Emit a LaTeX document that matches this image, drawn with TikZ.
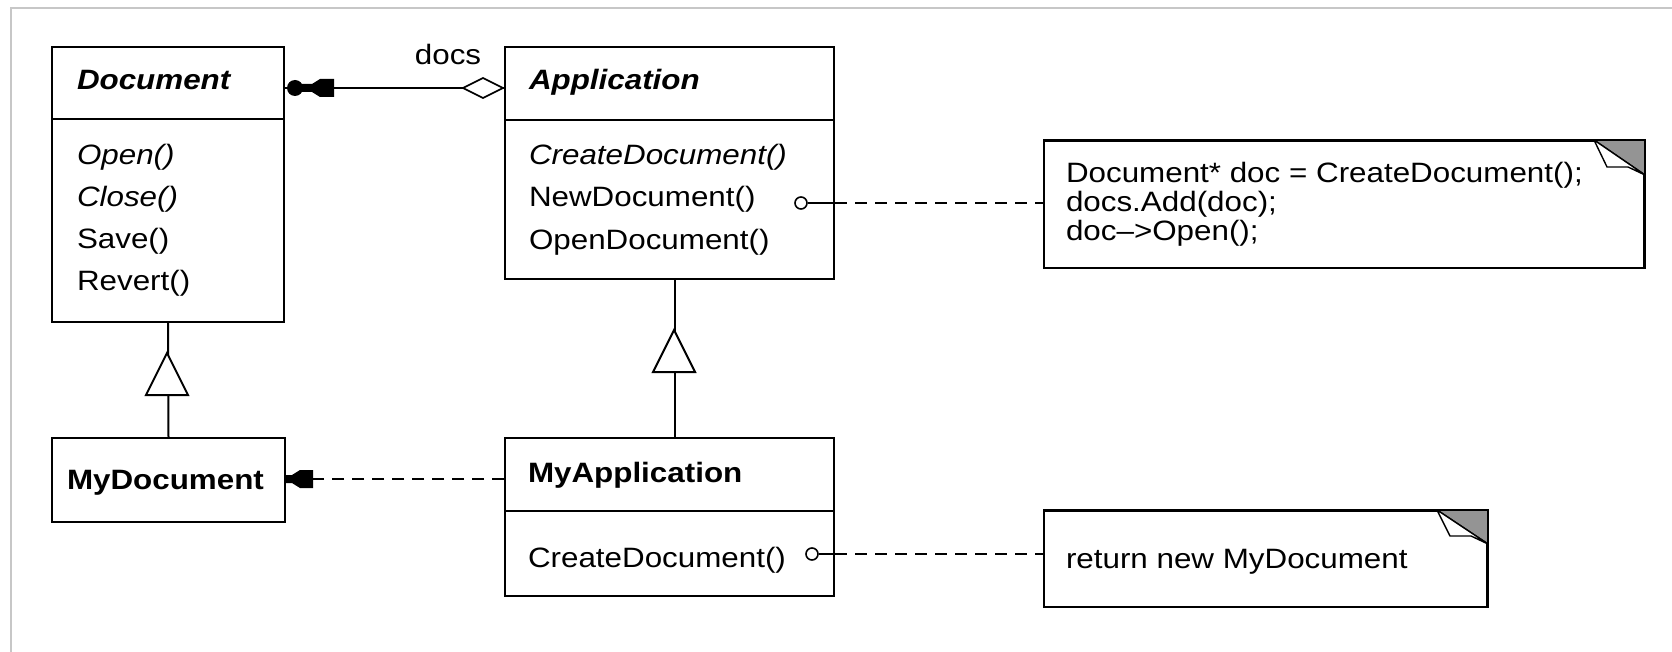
\documentclass[tikz,border=0pt]{standalone}
\usepackage{fontspec}
\setmainfont{Liberation Sans}[FakeStretch=1.12]
\usetikzlibrary{calc}
\newcommand\fsz{\fontsize{28}{30}\selectfont}
\begin{document}
\begin{tikzpicture}[x=1pt,y=-1pt,line width=2pt,
  box/.style={draw, fill=white, line width=2pt, inner sep=0pt, anchor=north west},
  tx/.style={anchor=base west, inner sep=0pt, font=\fsz},
  ti/.style={anchor=base west, inner sep=0pt, font=\fsz\itshape},
  tb/.style={anchor=base west, inner sep=0pt, font=\fsz\bfseries},
  tbi/.style={anchor=base west, inner sep=0pt, font=\fsz\bfseries\itshape},
  dsh/.style={line width=2pt, dash pattern=on 12pt off 8pt},
  lolly/.style={circle, draw, fill=white, line width=1.6pt, minimum size=12pt, inner sep=0pt},
  fold/.style={fill=black!42, draw=black, line width=1.4pt},
  flap/.style={fill=white, draw=black, line width=1.4pt, line join=round}]
\useasboundingbox (0,0) rectangle (1672,652);
% outer frame
\draw[black!22, line width=1.5pt] (11,652) -- (11,8) -- (1672,8);

% ---------- classes ----------
\node[box, minimum width=232pt, minimum height=275pt] (doc) at (51,46) {};
\draw ($(doc.north west)+(0,73)$) -- ($(doc.north east)+(0,73)$);
\node[tbi] (docname) at (76,90) {Document};
\node[ti] (m1) at (76,165) {Open()};
\node[ti] (m2) at (76,207) {Close()};
\node[tx] (m3) at (76,248) {Save()};
\node[tx] (m4) at (76,290) {Revert()};

\node[box, minimum width=329pt, minimum height=232pt] (app) at (504,46) {};
\draw ($(app.north west)+(0,74)$) -- ($(app.north east)+(0,74)$);
\node[tbi] (appname) at (528,90) {Application};
\node[ti] (a1) at (528,165) {CreateDocument()};
\node[tx] (a2) at (528,207) {NewDocument()};
\node[tx] (a3) at (528,250) {OpenDocument()};

\node[box, minimum width=233pt, minimum height=84pt] (mydoc) at (51,437) {};
\node[tb] (mydocname) at (66,489) {MyDocument};

\node[box, minimum width=329pt, minimum height=158pt] (myapp) at (504,437) {};
\draw ($(myapp.north west)+(0,74)$) -- ($(myapp.north east)+(0,74)$);
\node[tb] (myappname) at (527,482) {MyApplication};
\node[tx] (ma1) at (527,567) {CreateDocument()};

% ---------- notes ----------
\node[box, minimum width=600pt, minimum height=127pt] (note1) at (1043,140) {};
\fill[black!42] ($(note1.north east)+(-51,0)$) -- (note1.north east) -- ($(note1.north east)+(0,35)$) -- cycle;
\draw[line width=1.4pt] ($(note1.north east)+(-51,0)$) -- ($(note1.north east)+(0,35)$);
\draw[flap] ($(note1.north east)+(-51,0)$) -- ($(note1.north east)+(-38,27)$) -- ($(note1.north east)+(-17,27)$) -- ($(note1.north east)+(0,35)$) -- cycle;
\draw[line width=2pt] (note1.north west) -- (note1.north east) -- (note1.south east);
\node[tx] (n1) at (1065,183) {Document* doc = CreateDocument();};
\node[tx] (n2) at (1065,212) {docs.Add(doc);};
\node[tx] (n3) at (1065,241) {doc--{}>Open();};

\node[box, minimum width=443pt, minimum height=96pt] (note2) at (1043,510) {};
\fill[black!42] ($(note2.north east)+(-51,0)$) -- (note2.north east) -- ($(note2.north east)+(0,34)$) -- cycle;
\draw[line width=1.4pt] ($(note2.north east)+(-51,0)$) -- ($(note2.north east)+(0,34)$);
\draw[flap] ($(note2.north east)+(-51,0)$) -- ($(note2.north east)+(-38,26)$) -- ($(note2.north east)+(-17,26)$) -- ($(note2.north east)+(0,34)$) -- cycle;
\draw[line width=2pt] (note2.north west) -- (note2.north east) -- (note2.south east);
\node[tx] (r1) at (1065,568) {return new MyDocument};

% ---------- association docs ----------
\coordinate (asL) at (283,88);
\coordinate (asR) at (504,88);
\draw (asL) -- (asR);
\node[circle, fill=black, minimum size=16pt, inner sep=0pt] (many) at (295,88) {};
\fill (301,84) -- (312,84) -- (320,79) -- (334,79) -- (334,97) -- (320,97) -- (312,92) -- (301,92) -- cycle;
\filldraw[fill=white, line width=1.6pt] (463,88) -- (483,78) -- (503,88) -- (483,98) -- cycle;
\node[font=\fsz, anchor=base, inner sep=0pt] (docs) at (448,65) {docs};

% ---------- generalizations ----------
\draw (doc.south) -- (mydoc.north);
\filldraw[fill=white, line width=2pt, line join=miter] (167,353) -- (188,395) -- (146,395) -- cycle;
\coordinate (g2a) at ($(app.south)+(5.5,0)$);
\coordinate (g2b) at ($(myapp.north)+(5.5,0)$);
\draw (g2a) -- (g2b);
\filldraw[fill=white, line width=2pt, line join=miter] (674,330) -- (695,372) -- (653,372) -- cycle;

% ---------- dependency MyApplication -> MyDocument ----------
\coordinate (depL) at (313,479);
\draw[dsh] (myapp.west |- depL) -- (depL);
\fill (284,475) -- (292,475) -- (300,470) -- (313,470) -- (313,488) -- (300,488) -- (292,483) -- (284,483) -- cycle;

% ---------- note connectors ----------
\node[lolly] (c1) at (801,203) {};
\draw[line width=1.6pt] (c1.east) -- (app.east |- c1);
\draw[dsh] (app.east |- c1) -- (note1.west |- c1);

\node[lolly] (c2) at (812,554) {};
\draw[line width=1.6pt] (c2.east) -- (myapp.east |- c2);
\draw[dsh] (myapp.east |- c2) -- (note2.west |- c2);
\end{tikzpicture}
\end{document}
